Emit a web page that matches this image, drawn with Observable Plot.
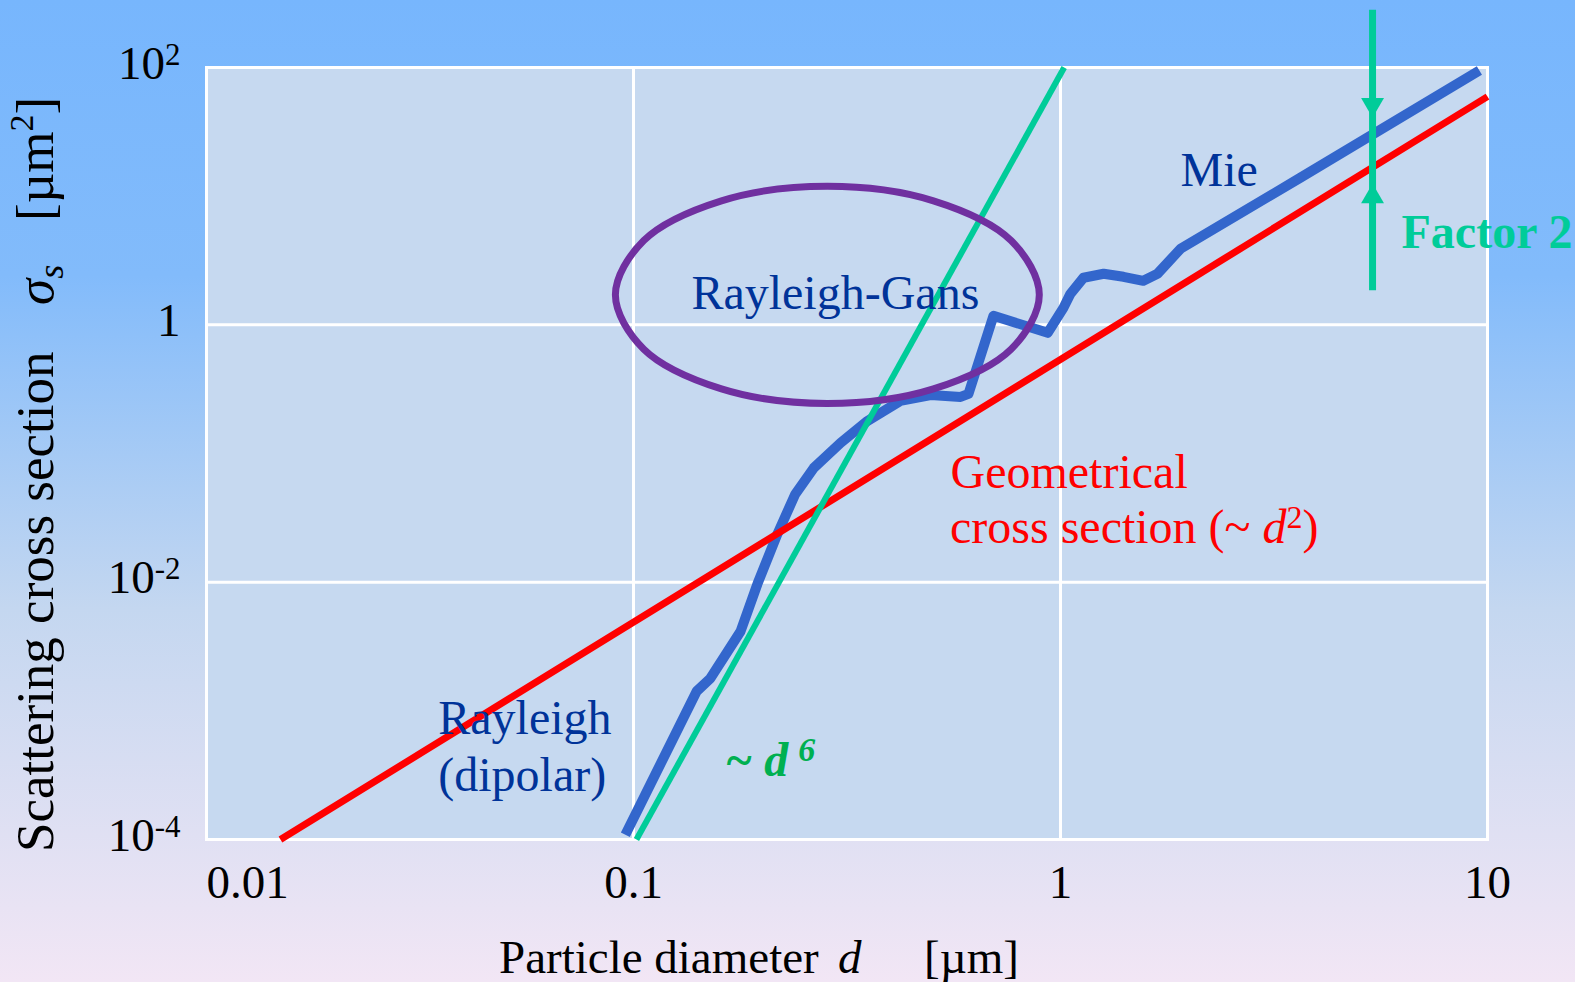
<!DOCTYPE html>
<html><head><meta charset="utf-8">
<script src="https://cdn.jsdelivr.net/npm/d3@7"></script>
<script src="https://cdn.jsdelivr.net/npm/@observablehq/plot@0.6"></script>
<style>
html,body{margin:0;padding:0;width:1575px;height:982px;overflow:hidden;}
body{background:linear-gradient(to bottom,#77b6fd 0%,#82bbfb 28%,#c4d7f0 62%,#f2e6f5 100%);}
#chart svg{display:block;overflow:visible;}
</style></head><body><div id="chart"></div>
<script>
// ---- data ----
const xTicks = [0.01, 0.1, 1, 10];
const yTicks = [1e-4, 1e-2, 1, 1e2];
const yTickLabels = ["10^-4", "10^-2", "1", "10^2"];
const xTickLabels = ["0.01", "0.1", "1", "10"];

// Mie scattering cross section
const mieD = [0.0957, 0.1406, 0.1514, 0.1782, 0.195, 0.2173, 0.2393, 0.2642, 0.3055, 0.3532, 0.4217, 0.4966, 0.5834, 0.6087, 0.6966, 0.9333, 1.016, 1.055, 1.132, 1.262, 1.404, 1.563, 1.687, 1.910, 3.648, 9.572];
const mieS = [1.09e-4, 1.42e-3, 1.79e-3, 4.16e-3, 9.64e-3, 0.0237, 0.0484, 0.0771, 0.1208, 0.179, 0.2564, 0.285, 0.2754, 0.2904, 1.175, 0.867, 1.355, 1.743, 2.323, 2.495, 2.363, 2.198, 2.495, 3.90, 13.93, 94.8];

// Geometrical cross section (~ d^2)
const geoD = [0.0149, 10];
const geoS = [1e-4, 59.4];

// Rayleigh ~ d^6
const d6D = [0.1016, 1.02];
const d6S = [1e-4, 100];

// Rayleigh-Gans ellipse outline (read points)
const ellD = [0.892, 0.766, 0.504, 0.2844, 0.1607, 0.1057, 0.0907, 0.1057, 0.1607, 0.2844, 0.504, 0.766];
const ellS = [1.71, 4.52, 9.20, 11.94, 9.20, 4.52, 1.71, 0.647, 0.318, 0.245, 0.318, 0.647];

// Factor 2 marker
const factorD = 5.38;
const factorTop = 278, factorBottom = 1.84;
const factorArrowDown = 51.5, factorArrowUp = 9.9;

const mie = mieD.map((d, i) => ({d, s: mieS[i]}));
const geo = geoD.map((d, i) => ({d, s: geoS[i]}));
const d6 = d6D.map((d, i) => ({d, s: d6S[i]}));
const ell = ellD.map((d, i) => ({d, s: ellS[i]}));

const SERIF = "'Liberation Serif','Times New Roman',serif";
const fmtY = v => yTickLabels[yTicks.indexOf(v)];
const fmtX = v => xTickLabels[xTicks.indexOf(v)];

const plot = Plot.plot({
  width: 1575, height: 982,
  marginTop: 67, marginRight: 88, marginBottom: 143, marginLeft: 206,
  style: {fontFamily: SERIF, background: "transparent", overflow: "visible", color: "black"},
  x: {type: "log", domain: [0.01, 10]},
  y: {type: "log", domain: [1e-4, 1e2]},
  marks: [
    Plot.frame({fill: "#c6d9f0", stroke: null}),
    Plot.gridX(xTicks, {stroke: "white", strokeOpacity: 1, strokeWidth: 3}),
    Plot.gridY(yTicks, {stroke: "white", strokeOpacity: 1, strokeWidth: 3}),
    Plot.frame({stroke: "white", strokeWidth: 3}),
    Plot.axisX([xTicks[0]], {tickSize: 0, tickPadding: 25, fontSize: 47, textAnchor: "start", label: null, tickFormat: fmtX}),
    Plot.axisX(xTicks.slice(1), {tickSize: 0, tickPadding: 25, fontSize: 47, label: null, tickFormat: fmtX}),
    Plot.axisY(yTicks, {tickSize: 0, tickPadding: 26, fontSize: 47, label: null, tickFormat: fmtY, dy: -4}),
    Plot.line(mie, {x: "d", y: "s", stroke: "#3366cc", strokeWidth: 10, strokeLinejoin: "round", strokeLinecap: "butt"}),
    Plot.line(geo, {x: "d", y: "s", stroke: "#ff0000", strokeWidth: 7, strokeLinecap: "butt"}),
    Plot.line(d6, {x: "d", y: "s", stroke: "#00cc99", strokeWidth: 6, strokeLinecap: "butt"}),
    Plot.line(ell, {x: "d", y: "s", stroke: "#7030a0", strokeWidth: 7, curve: "catmull-rom-closed"}),
    Plot.ruleX([0], {x: [factorD], y1: [factorTop], y2: [factorBottom], stroke: "#00cc99", strokeWidth: 7}),
    Plot.dot([0, 1], {x: [factorD, factorD], y: [factorArrowDown, factorArrowUp], symbol: "triangle", r: 8.5, fill: "#00cc99", stroke: null, rotate: [180, 0]}),
    Plot.text(["Mie"], {x: [1.91], y: [12.07], textAnchor: "start", lineAnchor: "bottom", fontSize: 48, fill: "#003399"}),
    Plot.text(["Rayleigh-Gans"], {x: [0.297], y: [1.332], textAnchor: "middle", lineAnchor: "bottom", fontSize: 48, fill: "#003399"}),
    Plot.text(["Rayleigh\n(dipolar)"], {x: [0.0349], y: [2.366e-4], textAnchor: "start", lineAnchor: "bottom", lineHeight: 1.19, fontSize: 48, fill: "#003399"}),
    Plot.text(["Geometrical"], {x: [0.5526], y: [0.0540], textAnchor: "start", lineAnchor: "bottom", fontSize: 48, fill: "#ff0000"}),
    Plot.text(["Factor 2"], {x: [6.29], y: [3.97], textAnchor: "start", lineAnchor: "bottom", fontSize: 48, fontWeight: "bold", fill: "#00cc99"})
  ]
});
document.getElementById("chart").appendChild(plot);

const svg = d3.select(plot);
const sx = plot.scale("x"), sy = plot.scale("y");

// superscripts in y tick labels
svg.selectAll('g[aria-label="y-axis tick label"] text').each(function() {
  const t = d3.select(this);
  const s = t.text();
  if (s.includes("^")) {
    const [base, exp] = s.split("^");
    t.text(null);
    t.append("tspan").text(base);
    t.append("tspan").attr("dy", -14).attr("font-size", "0.66em").text(exp);
  }
});

function rich(g, x, y, attrs, parts) {
  const t = g.append("text").attr("x", x).attr("y", y).attr("font-family", SERIF)
    .attr("text-anchor", "start").style("white-space", "pre");
  for (const k in attrs) t.attr(k, attrs[k]);
  for (const p of parts) {
    const ts = t.append("tspan").text(p.t);
    if (p.i) ts.attr("font-style", "italic");
    if (p.fs) ts.attr("font-size", p.fs);
    if (p.dy) ts.attr("dy", p.dy);
    if (p.dx) ts.attr("dx", p.dx);
  }
  return t;
}
const g = svg.append("g").attr("text-anchor", "start");
// Geometrical second line
rich(g, sx.apply(0.5526), sy.apply(0.02011), {"font-size": 48, fill: "#ff0000"},
  [{t: "cross section (~ "}, {t: "d", i: 1}, {t: "2", fs: 32, dy: -15}, {t: ")", dy: 15}]);
// ~ d^6
rich(g, sx.apply(0.1642), sy.apply(3.09e-4), {"font-size": 48, fill: "#00b050", "font-weight": "bold", "font-style": "italic"},
  [{t: "~ d"}, {t: "6", fs: 34, dy: -15, dx: 10}]);
// x-axis title
rich(g, 499, 973, {"font-size": 47, fill: "black"}, [{t: "Particle diameter"}]);
rich(g, 838, 973, {"font-size": 47, fill: "black", "font-style": "italic"}, [{t: "d"}]);
rich(g, 924, 973, {"font-size": 47, fill: "black"}, [{t: "[µm]"}]);
// y-axis title (rotated)
rich(g, 0, 0, {"font-size": 53, fill: "black", transform: "translate(53,852) rotate(-90)"}, [{t: "Scattering cross section"}]);
rich(g, 0, 0, {"font-size": 53, fill: "black", transform: "translate(53,305) rotate(-90)"}, [{t: "σ", i: 1}, {t: "s", i: 1, fs: 36, dy: 10}]);
rich(g, 0, 0, {"font-size": 53, fill: "black", transform: "translate(53,221) rotate(-90)"}, [{t: "[µm"}, {t: "2", fs: 34, dy: -20}, {t: "]", dy: 20}]);
</script></body></html>
